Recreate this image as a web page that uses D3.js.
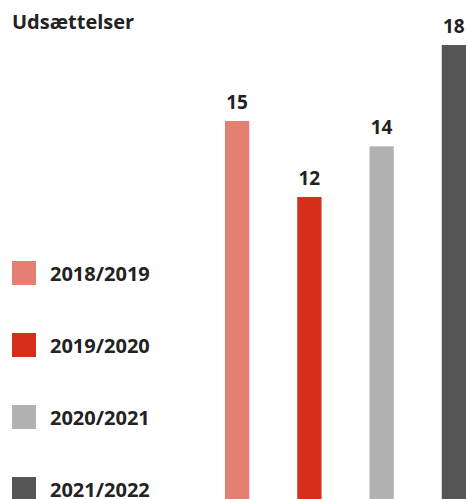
<!DOCTYPE html>
<html>
<head>
<meta charset="utf-8">
<script src="https://cdn.jsdelivr.net/npm/d3@7"></script>
<style>
  body { margin: 0; background: #fff; }
  svg { display: block; font-family: "Open Sans", sans-serif; }
</style>
</head>
<body>
<svg class="chart"></svg>
<script>
var seasons = ["2018/2019", "2019/2020", "2020/2021", "2021/2022"];
var values = [15, 12, 14, 18];
var colors = ["#e57f72", "#d52f19", "#b1b1b1", "#555555"];
var title = "Udsættelser";

function show() {
    'use strict';
    var width = 466, height = 499;

    var svg = d3.select(".chart")
        .attr("width", width)
        .attr("height", height);

    var x = d3.scaleBand()
        .domain(seasons)
        .range([201, 490])
        .paddingInner(0.664)
        .paddingOuter(0.332);

    var y = d3.scaleLinear()
        .domain([0, 18])
        .range([501, 45]);

    var color = d3.scaleOrdinal().domain(seasons).range(colors);

    svg.append("text")
        .attr("x", 12)
        .attr("y", 29)
        .attr("font-size", 20)
        .attr("font-weight", 700)
        .attr("fill", "#222")
        .text(title);

    var data = seasons.map(function (s, i) { return {season: s, value: values[i]}; });

    svg.selectAll("rect.bar").data(data).enter()
        .append("rect")
        .attr("class", "bar")
        .attr("x", function (d) { return x(d.season); })
        .attr("y", function (d) { return y(d.value); })
        .attr("width", x.bandwidth())
        .attr("height", function (d) { return y(0) - y(d.value); })
        .attr("fill", function (d) { return color(d.season); });

    svg.selectAll("text.lbl").data(data).enter()
        .append("text")
        .attr("class", "lbl")
        .attr("x", function (d) { return x(d.season) + x.bandwidth() / 2; })
        .attr("y", function (d) { return y(d.value) - 12; })
        .attr("text-anchor", "middle")
        .attr("font-size", 19)
        .attr("font-weight", 700)
        .attr("fill", "#222")
        .text(function (d) { return d.value; });

    var legend = svg.selectAll("g.leg").data(seasons).enter()
        .append("g")
        .attr("class", "leg")
        .attr("transform", function (d, i) { return "translate(12," + (261 + i * 72) + ")"; });

    legend.append("rect")
        .attr("width", 24)
        .attr("height", 24)
        .attr("fill", function (d) { return color(d); });

    legend.append("text")
        .attr("x", 38)
        .attr("y", 20)
        .attr("font-size", 20)
        .attr("font-weight", 700)
        .attr("fill", "#222")
        .text(function (d) { return d; });
}
show();
</script>
</body>
</html>
